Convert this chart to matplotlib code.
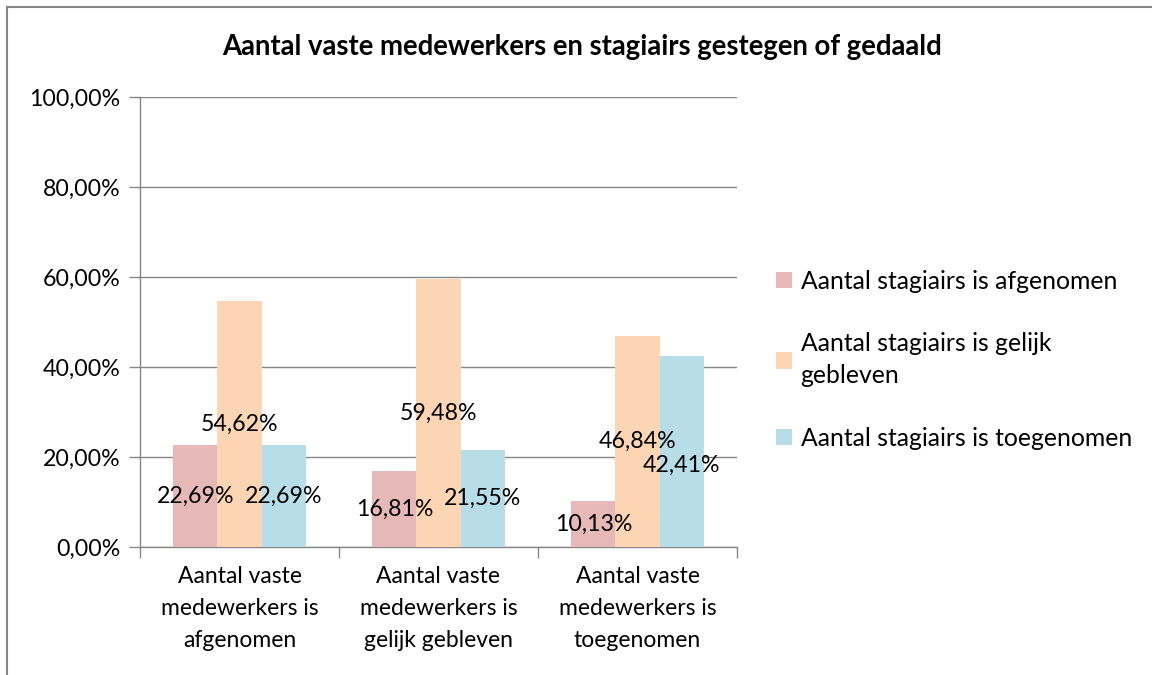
import matplotlib
matplotlib.use("Agg")
import matplotlib.pyplot as plt
from matplotlib.lines import Line2D
from matplotlib.ticker import FuncFormatter, FixedLocator
import numpy as np

plt.rcParams['font.family'] = ['Lato', 'DejaVu Sans']

# data
categories = ["Aantal vaste\nmedewerkers is\nafgenomen",
              "Aantal vaste\nmedewerkers is\ngelijk gebleven",
              "Aantal vaste\nmedewerkers is\ntoegenomen"]
series_names = ["Aantal stagiairs is afgenomen",
                "Aantal stagiairs is gelijk\ngebleven",
                "Aantal stagiairs is toegenomen"]
afgenomen = [22.69, 16.81, 10.13]
gelijk = [54.62, 59.48, 46.84]
toegenomen = [22.69, 21.55, 42.41]
colors = ["#E6B9B8", "#FCD5B5", "#B7DEE8"]
# one label was dragged down a bit in the original
label_shift = [[0, 0, 0], [0, 0, 0], [0, 0, -3.0]]

W, H = 1152, 675
fig = plt.figure(figsize=(W / 100, H / 100), dpi=100)
ax = fig.add_axes([140 / W, 1 - 547 / H, (737 - 140) / W, (547 - 97) / H])

grey = "#868686"
x = np.arange(len(categories))
bw = 0.222
series = [afgenomen, gelijk, toegenomen]
for i, (vals, col, name) in enumerate(zip(series, colors, series_names)):
    pos = x + (i - 1) * bw
    ax.bar(pos, vals, width=bw, color=col, label=name, zorder=3)
    for j, v in enumerate(vals):
        ax.text(pos[j], v / 2 + label_shift[j][i], ("%.2f%%" % v).replace(".", ","),
                ha="center", va="center", fontsize=16.7, color="black", zorder=4)

ax.set_xlim(-0.5, len(categories) - 0.5)
ax.set_ylim(0, 100)
ax.yaxis.set_major_locator(FixedLocator([0, 20, 40, 60, 80, 100]))
ax.yaxis.set_major_formatter(FuncFormatter(lambda v, p: ("%.2f%%" % v).replace(".", ",")))
ax.grid(axis="y", color=grey, linewidth=1, zorder=0)

ax.set_xticks(x)
ax.set_xticklabels(categories, fontsize=16.5, linespacing=1.62)
ax.tick_params(axis="x", length=0, pad=14)
# category boundary tick marks
ax.set_xticks(np.arange(len(categories) + 1) - 0.5, minor=True)
ax.tick_params(axis="x", which="minor", length=8, color=grey, width=1)
ax.tick_params(axis="y", length=8, color=grey, width=1, labelsize=16.7, pad=6)

for s in ["top", "right"]:
    ax.spines[s].set_visible(False)
for s in ["left", "bottom"]:
    ax.spines[s].set_color(grey)
    ax.spines[s].set_linewidth(1)

fig.text(582 / W, 1 - 47 / H, "Aantal vaste medewerkers en stagiairs gestegen of gedaald",
         ha="center", va="center", fontsize=19.8, fontweight="bold")

leg = fig.legend(loc="upper left", bbox_to_anchor=(766 / W, 1 - 260 / H), frameon=False,
                 fontsize=17.8, handlelength=0.65, handleheight=0.65, handletextpad=0.35,
                 labelspacing=1.6, borderaxespad=0)
for t in leg.get_texts():
    t.set_linespacing(1.45)

# chart border (only left and top visible in the original crop)
fig.add_artist(Line2D([6.5 / W, 6.5 / W], [0, 1 - 6.5 / H], color=grey, linewidth=1.5))
fig.add_artist(Line2D([6.5 / W, 1], [1 - 6.5 / H, 1 - 6.5 / H], color=grey, linewidth=1.5))

fig.savefig("out.png", dpi=100)
